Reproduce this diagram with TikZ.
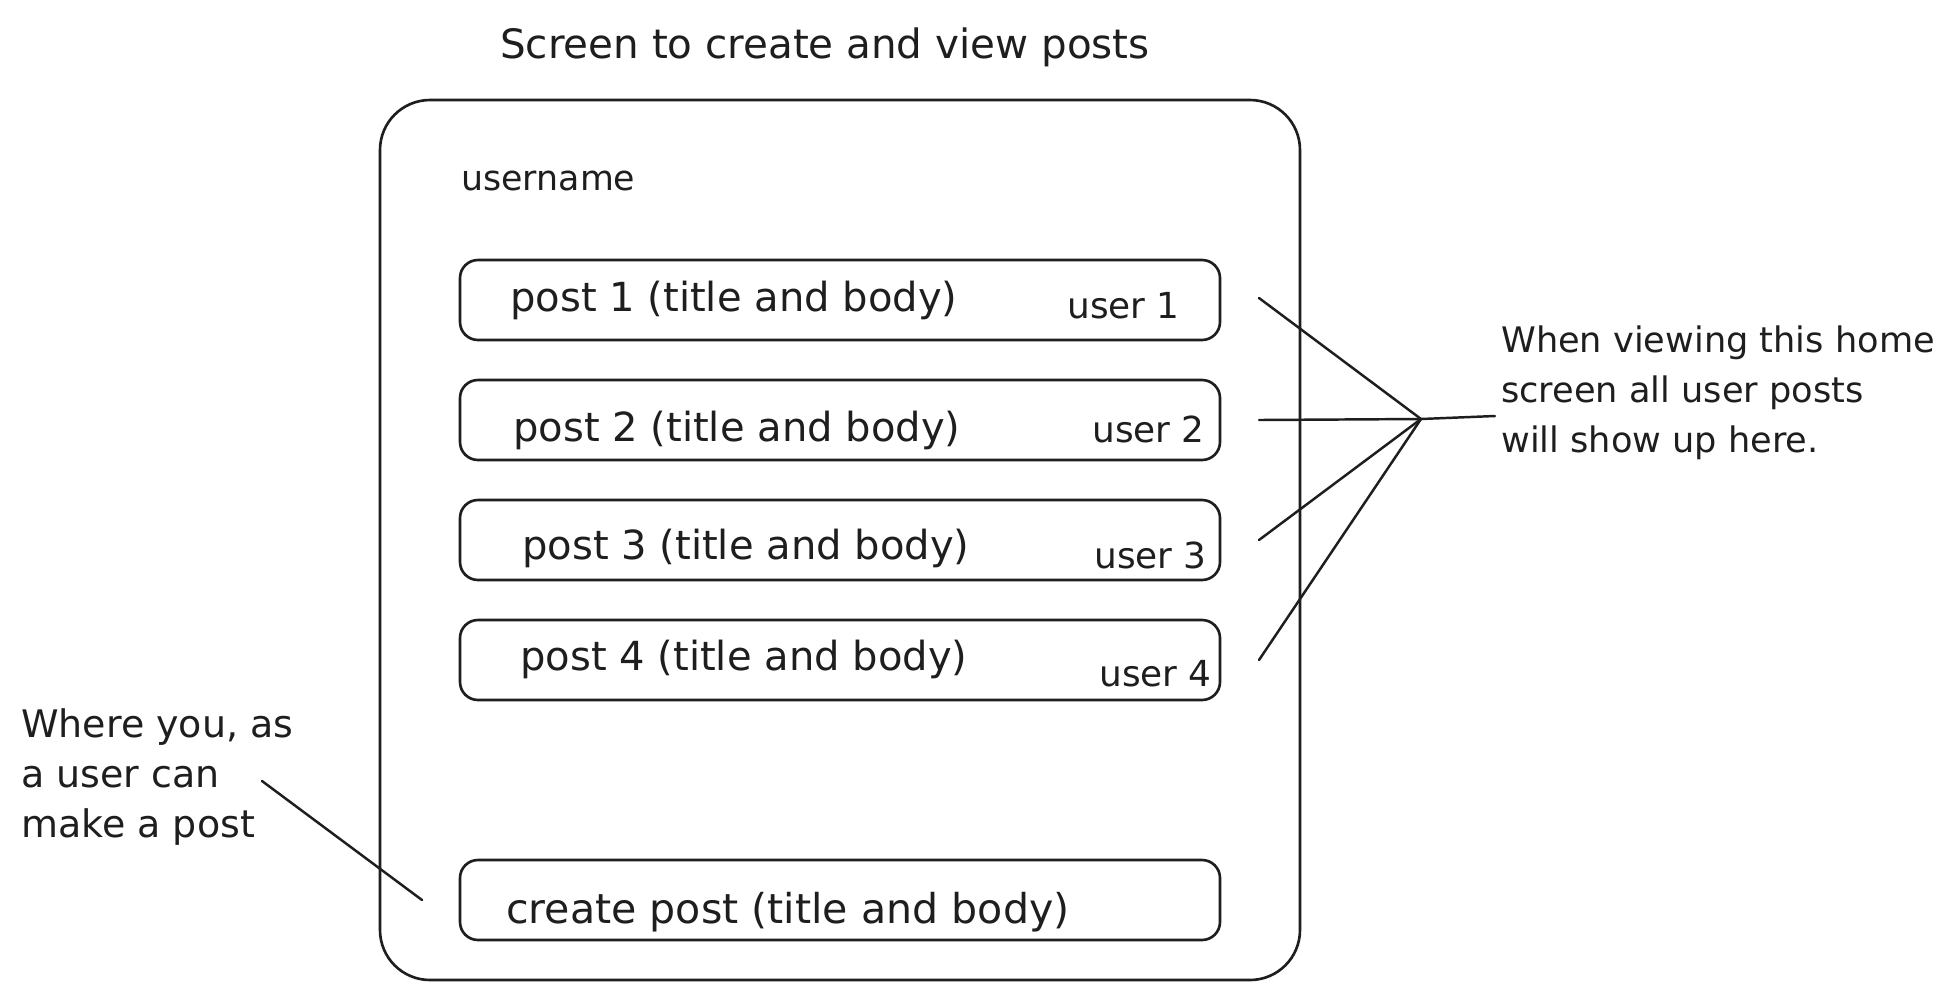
\documentclass[tikz,border=0pt]{standalone}
\usepackage{fontspec}
\setmainfont{DejaVu Sans}
\definecolor{ink}{HTML}{1E1E1E}
\begin{document}
\begin{tikzpicture}[x=0.1mm,y=-0.1mm,
  line width=0.75pt, line cap=round, line join=round,
  screenbox/.style={draw=ink, rounded corners=5mm, minimum width=92mm, minimum height=88mm, inner sep=0pt},
  postbox/.style={draw=ink, rounded corners=1.8mm, minimum width=76mm, minimum height=8mm, inner sep=0pt},
  posttext/.style={text=ink, inner sep=0pt, anchor=mid west, font=\fontsize{11.4}{14}\selectfont},
  usertext/.style={text=ink, inner sep=0pt, anchor=mid east, font=\fontsize{10.2}{13}\selectfont},
  note/.style={text=ink, inner sep=0pt, anchor=mid west, font=\fontsize{10.2}{13}\selectfont},
  wire/.style={draw=ink, line width=0.7pt}
]
\useasboundingbox[fill=white] (0,0) rectangle (1960,1000);

% title
\node[text=ink, inner sep=0pt, font=\fontsize{11.5}{14}\selectfont] (title) at (825,47) {Screen to create and view posts};

% screen
\node[screenbox] (screen) at (840,540) {};
\node[note, font=\fontsize{9.9}{13}\selectfont] (uname) at (460,181) {username};

% posts
\node[postbox] (p1) at (840,300) {};
\node[postbox] (p2) at (840,420) {};
\node[postbox] (p3) at (840,540) {};
\node[postbox] (p4) at (840,660) {};
\node[postbox] (pc) at (840,900) {};

\node[posttext] (t1) at (509,302) {post 1 (title and body)};
\node[posttext] (t2) at (512,432) {post 2 (title and body)};
\node[posttext] (t3) at (521,550) {post 3 (title and body)};
\node[posttext] (t4) at (519,661) {post 4 (title and body)};
\node[posttext, font=\fontsize{11.7}{14}\selectfont] (tc) at (505,914) {create post (title and body)};

\node[usertext] (u1) at (1181,309) {user 1};
\node[usertext] (u2) at (1206,433) {user 2};
\node[usertext] (u3) at (1208,559) {user 3};
\node[usertext] (u4) at (1213,677) {user 4};

% right annotation
\node[note, font=\fontsize{10}{13}\selectfont] (ra1) at (1500,343) {When viewing this home};
\node[note, font=\fontsize{10}{13}\selectfont] (ra2) at (1500,393) {screen all user posts};
\node[note, font=\fontsize{10}{13}\selectfont] (ra3) at (1500,443) {will show up here.};

% left annotation
\node[note, font=\fontsize{10.8}{13}\selectfont] (la1) at (20,728) {Where you, as};
\node[note, font=\fontsize{10.8}{13}\selectfont] (la2) at (20,778) {a user can};
\node[note, font=\fontsize{10.8}{13}\selectfont] (la3) at (20,828) {make a post};

% connectors
\coordinate (hub) at (1421,419);
\coordinate (hubend) at (1495,416);
\coordinate (s1) at (1259,298);
\coordinate (s2) at (1259,420);
\coordinate (s3) at (1259,540);
\coordinate (s4) at (1259,660);
\draw[wire] (s1) -- (hub);
\draw[wire] (s2) -- (hub) -- (hubend);
\draw[wire] (s3) -- (hub);
\draw[wire] (s4) -- (hub);

\coordinate (lstart) at (262,781);
\coordinate (lend) at (422,900);
\draw[wire] (lstart) -- (lend);
\end{tikzpicture}
\end{document}
